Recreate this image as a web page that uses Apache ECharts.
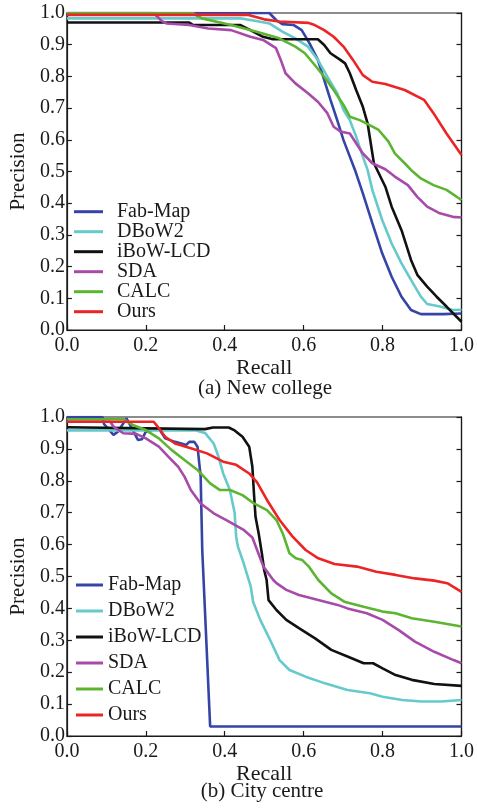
<!DOCTYPE html>
<html><head><meta charset="utf-8">
<script src="https://cdn.jsdelivr.net/npm/echarts@6/dist/echarts.min.js"></script>
<style>html,body{margin:0;padding:0;background:#fff}#c{width:477px;height:810px}</style>
</head><body><div id="c"></div>
<script>
const names = ['Fab-Map','DBoW2','iBoW-LCD','SDA','CALC','Ours'];
const colors = ['#3545a5','#66c9cc','#111111','#a74aa9','#5cb531','#ec2426'];
const xTicks = [0,0.2,0.4,0.6,0.8,1.0];
const captions = ['(a) New college','(b) City centre'];

// (a) New college: [recall, precision]
const A_fab = [[0,1],[0.513,1],[0.53,0.978],[0.546,0.965],[0.575,0.962],[0.595,0.946],[0.615,0.904],[0.636,0.852],[0.652,0.789],[0.668,0.726],[0.685,0.662],[0.701,0.599],[0.717,0.547],[0.73,0.505],[0.75,0.431],[0.774,0.337],[0.799,0.242],[0.823,0.168],[0.848,0.105],[0.872,0.063],[0.897,0.05],[0.953,0.05],[1,0.052]];
const A_dbow = [[0,0.983],[0.44,0.983],[0.48,0.975],[0.513,0.967],[0.546,0.941],[0.579,0.92],[0.611,0.894],[0.636,0.852],[0.66,0.799],[0.685,0.747],[0.701,0.694],[0.717,0.662],[0.733,0.61],[0.75,0.547],[0.762,0.505],[0.774,0.442],[0.799,0.347],[0.823,0.273],[0.848,0.21],[0.872,0.158],[0.897,0.105],[0.913,0.082],[0.945,0.074],[0.978,0.063],[1,0.064]];
const A_ibow = [[0,0.97],[0.31,0.97],[0.32,0.962],[0.44,0.962],[0.465,0.946],[0.497,0.925],[0.522,0.917],[0.636,0.917],[0.652,0.899],[0.668,0.873],[0.693,0.852],[0.705,0.841],[0.717,0.81],[0.733,0.757],[0.75,0.704],[0.762,0.652],[0.77,0.589],[0.778,0.526],[0.807,0.452],[0.823,0.389],[0.848,0.315],[0.872,0.221],[0.888,0.174],[0.913,0.137],[0.937,0.105],[0.962,0.074],[1,0.026]];
const A_sda = [[0,1],[0.22,1],[0.24,0.975],[0.253,0.967],[0.31,0.962],[0.358,0.951],[0.416,0.946],[0.465,0.925],[0.497,0.915],[0.53,0.889],[0.542,0.852],[0.554,0.81],[0.579,0.778],[0.611,0.747],[0.636,0.72],[0.66,0.684],[0.676,0.641],[0.693,0.626],[0.717,0.62],[0.733,0.589],[0.75,0.557],[0.774,0.526],[0.807,0.507],[0.831,0.484],[0.864,0.457],[0.888,0.42],[0.913,0.389],[0.945,0.368],[0.978,0.357],[1,0.355]];
const A_calc = [[0,1],[0.318,1],[0.342,0.983],[0.416,0.962],[0.481,0.941],[0.538,0.92],[0.579,0.894],[0.603,0.873],[0.628,0.836],[0.652,0.799],[0.676,0.757],[0.701,0.71],[0.717,0.673],[0.742,0.662],[0.766,0.647],[0.79,0.631],[0.815,0.594],[0.831,0.557],[0.856,0.526],[0.872,0.505],[0.897,0.478],[0.929,0.457],[0.962,0.442],[1,0.41]];
const A_ours = [[0,0.994],[0.46,0.994],[0.5,0.98],[0.538,0.973],[0.611,0.969],[0.628,0.962],[0.652,0.946],[0.676,0.925],[0.701,0.894],[0.725,0.852],[0.75,0.804],[0.774,0.783],[0.807,0.776],[0.856,0.757],[0.905,0.726],[0.929,0.684],[0.962,0.62],[1,0.552]];

// (b) City centre
const B_fab = [[0,1],[0.09,1],[0.094,0.978],[0.118,0.944],[0.13,0.955],[0.151,0.996],[0.16,0.975],[0.18,0.928],[0.19,0.93],[0.2,0.954],[0.217,0.96],[0.235,0.96],[0.249,0.933],[0.274,0.922],[0.29,0.917],[0.302,0.912],[0.31,0.922],[0.323,0.922],[0.331,0.907],[0.339,0.813],[0.343,0.583],[0.363,0.03],[1,0.03]];
const B_dbow = [[0,0.958],[0.327,0.958],[0.35,0.95],[0.355,0.944],[0.372,0.917],[0.384,0.876],[0.396,0.823],[0.413,0.771],[0.425,0.7],[0.429,0.625],[0.433,0.595],[0.447,0.545],[0.466,0.468],[0.472,0.42],[0.49,0.364],[0.515,0.301],[0.539,0.238],[0.564,0.207],[0.605,0.186],[0.654,0.165],[0.711,0.144],[0.768,0.134],[0.8,0.123],[0.85,0.113],[0.899,0.108],[0.948,0.108],[1,0.113]];
const B_ibow = [[0,0.968],[0.35,0.962],[0.37,0.967],[0.41,0.967],[0.425,0.958],[0.445,0.938],[0.462,0.907],[0.47,0.844],[0.474,0.761],[0.478,0.687],[0.486,0.635],[0.494,0.573],[0.5,0.52],[0.506,0.49],[0.511,0.426],[0.531,0.395],[0.556,0.364],[0.588,0.338],[0.629,0.306],[0.67,0.27],[0.711,0.249],[0.752,0.228],[0.776,0.228],[0.8,0.212],[0.833,0.191],[0.874,0.176],[0.931,0.163],[1,0.157]];
const B_sda = [[0,0.985],[0.11,0.985],[0.118,0.97],[0.143,0.949],[0.176,0.947],[0.2,0.933],[0.233,0.907],[0.257,0.876],[0.282,0.844],[0.298,0.813],[0.314,0.771],[0.339,0.729],[0.372,0.698],[0.404,0.677],[0.449,0.645],[0.47,0.622],[0.482,0.583],[0.498,0.531],[0.523,0.489],[0.531,0.479],[0.556,0.458],[0.588,0.442],[0.637,0.426],[0.686,0.411],[0.711,0.4],[0.76,0.385],[0.8,0.364],[0.841,0.332],[0.882,0.296],[0.931,0.264],[0.98,0.238],[1,0.228]];
const B_calc = [[0,0.993],[0.143,0.993],[0.167,0.975],[0.2,0.959],[0.233,0.933],[0.265,0.897],[0.298,0.865],[0.331,0.834],[0.363,0.792],[0.388,0.771],[0.413,0.771],[0.445,0.755],[0.474,0.729],[0.507,0.708],[0.531,0.677],[0.547,0.635],[0.564,0.573],[0.58,0.557],[0.596,0.552],[0.613,0.531],[0.637,0.489],[0.67,0.447],[0.703,0.421],[0.752,0.405],[0.8,0.39],[0.833,0.385],[0.874,0.369],[0.931,0.358],[1,0.343]];
const B_ours = [[0,0.985],[0.22,0.985],[0.233,0.965],[0.249,0.938],[0.274,0.917],[0.314,0.902],[0.355,0.886],[0.396,0.86],[0.429,0.85],[0.462,0.823],[0.482,0.795],[0.507,0.74],[0.539,0.677],[0.572,0.625],[0.605,0.583],[0.637,0.557],[0.678,0.539],[0.735,0.531],[0.784,0.515],[0.833,0.505],[0.882,0.494],[0.931,0.487],[0.964,0.479],[1,0.452]];

const dataA = [A_fab, A_dbow, A_ibow, A_sda, A_calc, A_ours];
const dataB = [B_fab, B_dbow, B_ibow, B_sda, B_calc, B_ours];

const FONT = '"Liberation Serif", "Times New Roman", serif';
const ink = '#1a1a1a';

function xAx(g, gap){
  return {type:'value', gridIndex:g, min:0, max:1, interval:0.2,
    name:'Recall', nameLocation:'middle', nameGap:gap,
    nameTextStyle:{fontFamily:FONT, fontSize:22, color:ink},
    axisLine:{show:true, lineStyle:{color:ink, width:1.2}},
    axisTick:{show:true, inside:true, length:5, lineStyle:{color:ink, width:1.2}},
    axisLabel:{fontFamily:FONT, fontSize:20, color:ink, margin:6, formatter:v=>v.toFixed(1)},
    splitLine:{show:false}};
}
function yAx(g){
  return {type:'value', gridIndex:g, min:0, max:1, interval:0.1, position:'left',
    name:'Precision', nameLocation:'middle', nameGap:32,
    nameTextStyle:{fontFamily:FONT, fontSize:21, color:ink},
    axisLine:{show:true, lineStyle:{color:ink, width:1.2}},
    axisTick:{show:true, inside:true, length:5, lineStyle:{color:ink, width:1.2}},
    axisLabel:{fontFamily:FONT, fontSize:20, color:ink, margin:2, formatter:v=>v.toFixed(1)},
    splitLine:{show:false}};
}
function yRight(g){
  return {type:'value', gridIndex:g, min:0, max:1, interval:0.1, position:'right',
    axisLine:{show:true, lineStyle:{color:ink, width:1.2}},
    axisTick:{show:true, inside:true, length:5, lineStyle:{color:ink, width:1.2}},
    axisLabel:{show:false}, splitLine:{show:false}};
}

const series = [];
[dataA, dataB].forEach((set, gi) => {
  set.forEach((d, i) => {
    series.push({type:'line', name:names[i], data:d, xAxisIndex:gi, yAxisIndex:gi*2,
      showSymbol:false, symbol:'none', smooth:false, silent:true,
      lineStyle:{color:colors[i], width:2.6}, itemStyle:{color:colors[i]},
      emphasis:{disabled:true}, z: 2 + i});
  });
});

const chart = echarts.init(document.getElementById('c'), null, {renderer:'canvas'});
chart.setOption({
  animation:false,
  backgroundColor:'#fff',
  color:colors,
  title:[
    {text:captions[0], left:265, top:378, textAlign:'center', padding:0,
     textStyle:{fontFamily:FONT, fontSize:21, fontWeight:'normal', color:ink}},
    {text:captions[1], left:262, top:781, textAlign:'center', padding:0,
     textStyle:{fontFamily:FONT, fontSize:21, fontWeight:'normal', color:ink}}
  ],
  grid:[
    {left:60, top:13, width:409, height:317, show:true, borderColor:ink, borderWidth:1.2},
    {left:60, top:417, width:408, height:319, show:true, borderColor:ink, borderWidth:1.2}
  ],
  xAxis:[xAx(0,24), xAx(1,24)],
  yAxis:[yAx(0), yRight(0), yAx(1), yRight(1)],
  legend:[
    {data:names, orient:'vertical', left:74, top:201.7, padding:0, itemGap:0,
     icon:'rect', itemWidth:29, itemHeight:3, selectedMode:false,
     textStyle:{fontFamily:FONT, fontSize:20, color:ink, lineHeight:20, padding:[0,0,0,9]}},
    {data:names, orient:'vertical', left:76, top:572, padding:0, itemGap:0,
     icon:'rect', itemWidth:27, itemHeight:3, selectedMode:false,
     textStyle:{fontFamily:FONT, fontSize:20, color:ink, lineHeight:26}}
  ],
  series:series
});
</script></body></html>
